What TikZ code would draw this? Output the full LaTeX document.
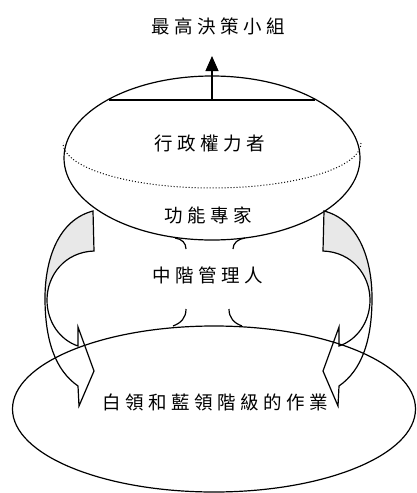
\documentclass[tikz,border=0pt]{standalone}
\usepackage{fontspec}
\newfontfamily\cjk{Noto Sans CJK TC}
\usetikzlibrary{shapes.geometric,arrows.meta}
\newcommand\ks{\kern4.5pt}
\tikzset{
  outline/.style={draw=black,line width=1.2pt},
  lbl/.style={font=\cjk\fontsize{18.5}{18.5}\selectfont,inner sep=0pt,anchor=center},
  bigell/.style={outline,ellipse,inner sep=0pt},
  shade/.style={fill=black!9,draw=none},
}
\newcommand\sidearrowshade{%
  \fill[shade] (93,211) .. controls (58,220) and (45,260) .. (45,298) -- (47,300)
     .. controls (47,275) and (65,252) .. (94,251) -- cycle;}
\newcommand\sidearrowline{%
  \draw[outline,line join=miter] (93,211) .. controls (58,220) and (45,260) .. (45,298)
     .. controls (45,340) and (55,370) .. (78,386) -- (79,406) -- (94,371) -- (78,327) -- (78,346)
     .. controls (60,340) and (47,322) .. (47,300)
     .. controls (47,275) and (65,252) .. (94,251) -- cycle;}
\begin{document}
\begin{tikzpicture}[x=1pt,y=-1pt]
\useasboundingbox (0,0) rectangle (416,493);
% ellipses
\node[bigell,minimum width=296pt,minimum height=164pt] (upper) at (212,158) {};
\node[bigell,minimum width=403pt,minimum height=166pt] (lower) at (214,409) {};
% chord and arrow to top
\coordinate (chl) at (109,100);
\coordinate (chr) at (315,100);
\coordinate (chm) at (212,100);
\draw[outline] (chl) -- (chr);
\node[lbl] (top) at (218,26) {最\ks 高\ks 決\ks 策\ks 小\ks 組};
\coordinate (tip) at (212,56);
\draw[outline,-{Triangle[width=13pt,length=15pt]}] (chm) -- (tip);
% dotted arc
\draw[dotted,line width=1pt] plot[domain=0:180,samples=80] ({212+149*cos(\x)},{143+45*sin(\x)});
% small concave arcs of middle layer
\draw[outline] (175,238) .. controls (182,239) and (186,243) .. (186,249);
\draw[outline] (245,238) .. controls (238,239) and (233,243) .. (233,249);
\draw[outline] (186,309) .. controls (186,318) and (181,323) .. (173,326);
\draw[outline] (229,309) .. controls (229,318) and (234,323) .. (242,326);
% side arrows
\sidearrowshade
\sidearrowline
\begin{scope}[shift={(417,0)},xscale=-1]
\sidearrowshade
\sidearrowline
\end{scope}
% labels
\node[lbl] (exec) at (210,143) {行\ks 政\ks 權\ks 力\ks 者};
\node[lbl] (func) at (208,215) {功\ks 能\ks 專\ks 家};
\node[lbl] (mid) at (208,275) {中\ks 階\ks 管\ks 理\ks 人};
\node[lbl] (work) at (215,402) {白\ks 領\ks 和\ks 藍\ks 領\ks 階\ks 級\ks 的\ks 作\ks 業};
\end{tikzpicture}
\end{document}
